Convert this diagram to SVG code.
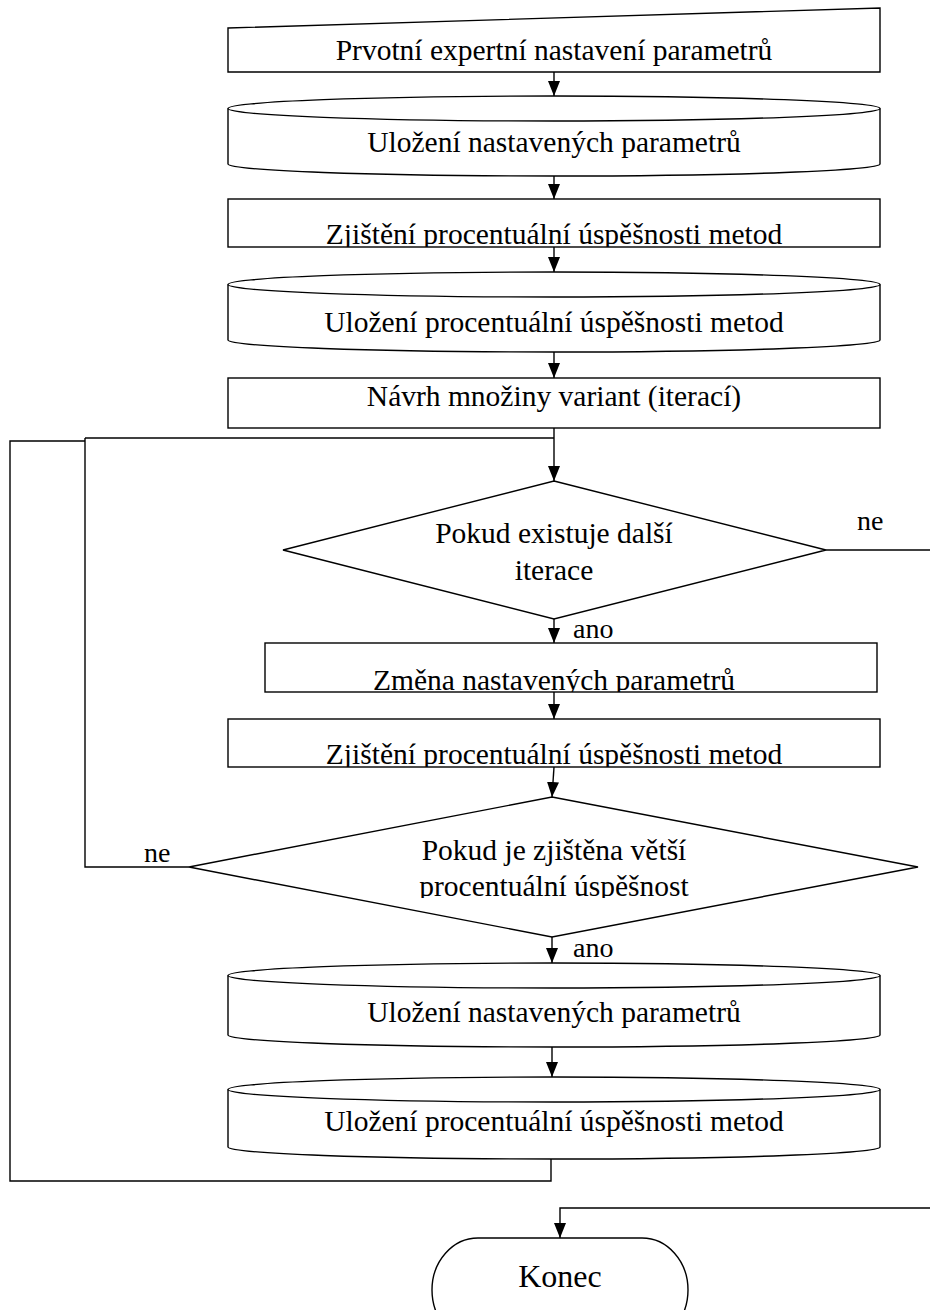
<svg xmlns="http://www.w3.org/2000/svg" width="930" height="1310" viewBox="0 0 930 1310">
<style>
.s{fill:#fff;stroke:#000;stroke-width:1.4}
.c{fill:none;stroke:#000;stroke-width:1.4}
.t{font-family:"Liberation Serif","Times New Roman",serif;font-size:29.5px;fill:#000;text-anchor:middle}
.l{font-family:"Liberation Serif","Times New Roman",serif;font-size:28px;fill:#000}
</style>
<defs>
<marker id="ar" markerUnits="userSpaceOnUse" markerWidth="15" markerHeight="12" refX="15" refY="6" orient="auto">
<path d="M0,0 L15,6 L0,12 Z" fill="#000"/>
</marker>
<clipPath id="c3"><rect x="228" y="199" width="652" height="48"/></clipPath>
<clipPath id="c7"><rect x="228" y="643" width="652" height="49"/></clipPath>
<clipPath id="c8"><rect x="228" y="719" width="652" height="48"/></clipPath>
<clipPath id="c9"><rect x="180" y="790" width="750" height="108"/></clipPath>
</defs>
<rect width="930" height="1310" fill="#fff"/>
<g id="connectors">
<line class="c" x1="554" y1="72" x2="554" y2="96" marker-end="url(#ar)"/>
<line class="c" x1="554" y1="176" x2="554" y2="199" marker-end="url(#ar)"/>
<line class="c" x1="554" y1="247" x2="554" y2="272" marker-end="url(#ar)"/>
<line class="c" x1="554" y1="352" x2="554" y2="378" marker-end="url(#ar)"/>
<line class="c" x1="554" y1="428" x2="554" y2="481" stroke-width="2.4" marker-end="url(#ar)"/>
<polyline class="c" points="85,438 554,438" stroke-width="2.6"/>
<line class="c" x1="554" y1="619" x2="554" y2="643" marker-end="url(#ar)"/>
<line class="c" x1="554" y1="692" x2="554" y2="719" marker-end="url(#ar)"/>
<line class="c" x1="554" y1="767" x2="552" y2="797" marker-end="url(#ar)"/>
<line class="c" x1="552" y1="937" x2="552" y2="963" marker-end="url(#ar)"/>
<line class="c" x1="552" y1="1047" x2="552" y2="1077" marker-end="url(#ar)"/>
<polyline class="c" points="551,1159 551,1181 10,1181 10,441 85,441"/>
<polyline class="c" points="189,867 85,867 85,438"/>
<line class="c" x1="826" y1="550" x2="930" y2="550"/>
<polyline class="c" points="930,1208 560,1208 560,1238" marker-end="url(#ar)"/>
<text class="l" x="857" y="530">ne</text>
<text class="l" x="144" y="862">ne</text>
<text class="l" x="573" y="638">ano</text>
<text class="l" x="573" y="957">ano</text>
</g>
<g id="n1">
<path class="s" d="M228,28 L880,8 L880,72 L228,72 Z"/>
<text class="t" x="554" y="60">Prvotní expertní nastavení parametrů</text>
</g>
<g id="n2">
<path class="s" d="M228,108.5 A326,12.5 0 0 1 880,108.5 L880,164 A326,12 0 0 1 228,164 Z"/>
<path class="c" d="M228,108.5 A326,12.5 0 0 0 880,108.5"/>
<text class="t" x="554" y="152">Uložení nastavených parametrů</text>
</g>
<g id="n3">
<rect class="s" x="228" y="199" width="652" height="48"/>
<text class="t" x="554" y="244" clip-path="url(#c3)">Zjištění procentuální úspěšnosti metod</text>
</g>
<g id="n4">
<path class="s" d="M228,284.5 A326,12.5 0 0 1 880,284.5 L880,340 A326,12 0 0 1 228,340 Z"/>
<path class="c" d="M228,284.5 A326,12.5 0 0 0 880,284.5"/>
<text class="t" x="554" y="332">Uložení procentuální úspěšnosti metod</text>
</g>
<g id="n5">
<rect class="s" x="228" y="378" width="652" height="50"/>
<text class="t" x="554" y="406">Návrh množiny variant (iterací)</text>
</g>
<g id="n6">
<path class="s" d="M554,481 L826,550 L554,619 L283,550 Z"/>
<text class="t" x="554" y="543">Pokud existuje další</text>
<text class="t" x="554" y="580">iterace</text>
</g>
<g id="n7">
<rect class="s" x="265" y="643" width="612" height="49"/>
<text class="t" x="554" y="690" clip-path="url(#c7)">Změna nastavených parametrů</text>
</g>
<g id="n8">
<rect class="s" x="228" y="719" width="652" height="48"/>
<text class="t" x="554" y="764" clip-path="url(#c8)">Zjištění procentuální úspěšnosti metod</text>
</g>
<g id="n9">
<path class="s" d="M552,797 L918,867 L552,937 L189,867 Z"/>
<text class="t" x="554" y="860">Pokud je zjištěna větší</text>
<text class="t" x="554" y="896" clip-path="url(#c9)">procentuální úspěšnost</text>
</g>
<g id="n10">
<path class="s" d="M228,975.5 A326,12.5 0 0 1 880,975.5 L880,1035 A326,12 0 0 1 228,1035 Z"/>
<path class="c" d="M228,975.5 A326,12.5 0 0 0 880,975.5"/>
<text class="t" x="554" y="1022">Uložení nastavených parametrů</text>
</g>
<g id="n11">
<path class="s" d="M228,1089.5 A326,12.5 0 0 1 880,1089.5 L880,1147 A326,12 0 0 1 228,1147 Z"/>
<path class="c" d="M228,1089.5 A326,12.5 0 0 0 880,1089.5"/>
<text class="t" x="554" y="1131">Uložení procentuální úspěšnosti metod</text>
</g>
<g id="n12">
<path class="s" d="M478,1238 L642,1238 A46,52 0 0 1 642,1342 L478,1342 A46,52 0 0 1 478,1238 Z"/>
<text class="t" x="560" y="1287" style="font-size:32px">Konec</text>
</g>
</svg>
